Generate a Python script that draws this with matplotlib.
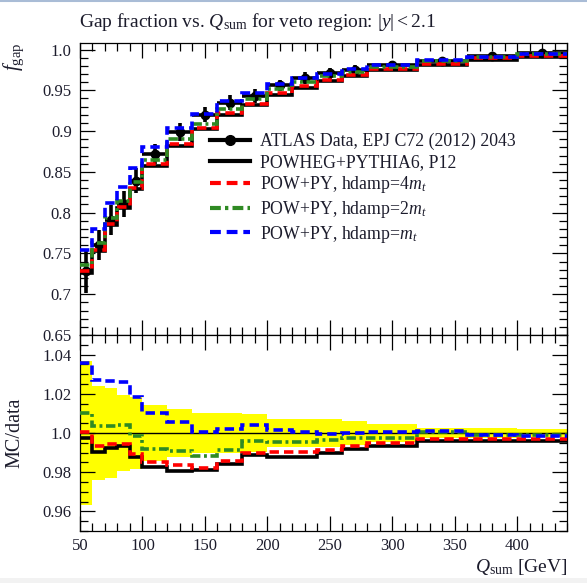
import matplotlib
matplotlib.use('Agg')
from matplotlib import pyplot as plt
from matplotlib.lines import Line2D
from matplotlib.patches import Rectangle
from matplotlib.ticker import MultipleLocator, FixedLocator, FixedFormatter
import numpy as np

plt.rcParams['font.family'] = ['Liberation Serif', 'DejaVu Serif']
plt.rcParams['mathtext.fontset'] = 'custom'
plt.rcParams['mathtext.rm'] = 'Liberation Serif'
plt.rcParams['mathtext.it'] = 'Liberation Serif:italic'

# Binning in Q_sum [GeV]
edges = np.array([50, 60, 70, 80, 90, 100, 120, 140, 160, 180, 200,
                  220, 240, 260, 280, 320, 360, 400, 440])

# ATLAS gap fraction with total uncertainty
data = np.array([0.728, 0.760, 0.791, 0.811, 0.839, 0.872, 0.899, 0.920, 0.935,
                 0.943, 0.956, 0.965, 0.971, 0.9755, 0.981, 0.9855, 0.992, 0.9955])
data_err = np.array([0.0269, 0.0182, 0.0182, 0.0158, 0.0155, 0.0126, 0.0108, 0.0094,
                     0.0094, 0.0090, 0.0069, 0.0069, 0.0068, 0.0059, 0.0045, 0.0027,
                     0.0025, 0.0020])

# MC predictions
p12 = np.array([0.7260, 0.7528, 0.7848, 0.8056, 0.8288, 0.8567, 0.8817, 0.9025, 0.9200,
                0.9323, 0.9441, 0.9530, 0.9609, 0.9674, 0.9747, 0.9813, 0.9877, 0.9912])
hdamp4 = np.array([0.7284, 0.7548, 0.7866, 0.8065, 0.8298, 0.8592, 0.8842, 0.9036, 0.9217,
                   0.9336, 0.9467, 0.9556, 0.9625, 0.9692, 0.9758, 0.9827, 0.9890, 0.9923])
hdamp2 = np.array([0.7356, 0.7626, 0.7939, 0.8143, 0.8376, 0.8651, 0.8907, 0.9091, 0.9271,
                   0.9392, 0.9515, 0.9605, 0.9675, 0.9729, 0.9787, 0.9858, 0.9910, 0.9943])
hdamp1 = np.array([0.7540, 0.7804, 0.8120, 0.8319, 0.8544, 0.8808, 0.9039, 0.9205, 0.9369,
                   0.9469, 0.9574, 0.9654, 0.9703, 0.9757, 0.9814, 0.9867, 0.9911, 0.9940])

labels = ['ATLAS Data, EPJ C72 (2012) 2043', 'POWHEG+PYTHIA6, P12',
          r'POW+PY, hdamp=4$m_t$', r'POW+PY, hdamp=2$m_t$', r'POW+PY, hdamp=$m_t$']

centers = 0.5 * (edges[1:] + edges[:-1])
halfw = 0.5 * (edges[1:] - edges[:-1])

W, H = 587, 583
fig = plt.figure(figsize=(W / 100, H / 100), dpi=100)
ax = fig.add_axes([80 / W, 1 - 335 / H, 487 / W, 292 / H])
axr = fig.add_axes([80 / W, 1 - 531 / H, 487 / W, 196 / H], sharex=ax)

# thin frame line on top and grey strip at the bottom
fig.add_artist(Line2D([0, 1], [1 - 1 / H, 1 - 1 / H], transform=fig.transFigure,
                      color='#a9bcd6', lw=1.5))
fig.add_artist(Rectangle((0, 0), 1, 5 / H, transform=fig.transFigure,
                         color='#f2f2f2', lw=0))

lw = 2.6
styles = [
    dict(color='black', lw=lw, linestyle='-'),
    dict(color='#ff0000', lw=lw, linestyle=(0, (2.6, 1.4))),
    dict(color='#2f8a23', lw=lw, linestyle=(0, (2.6, 1.0, 0.8, 1.0))),
    dict(color='#0000ff', lw=lw, linestyle=(0, (2.6, 1.4))),
]
preds = [p12, hdamp4, hdamp2, hdamp1]

# Upper panel: data and predictions
ax.errorbar(centers, data, xerr=halfw, yerr=data_err, fmt='o', color='black',
            ms=6, elinewidth=2.6, capsize=0, zorder=2)
for y, st in zip(preds, styles):
    ax.stairs(y, edges, baseline=None, zorder=3, **st)

# Lower panel: ratio to data
rel = data_err / data
axr.stairs(1 + rel, edges, baseline=1 - rel, fill=True, color='#ffff00', lw=0, zorder=1)
axr.axhline(1.0, color='black', lw=1.0, zorder=2)
for y, st in zip(preds, styles):
    axr.stairs(y / data, edges, baseline=None, zorder=3, **st)

ax.set_xlim(50, 440)
ax.set_ylim(0.65, 1.008)
axr.set_ylim(0.95, 1.05)

fs = 12
txt = '#1c1c2c'
for a in (ax, axr):
    a.xaxis.set_major_locator(MultipleLocator(50))
    a.xaxis.set_minor_locator(MultipleLocator(10))
    a.tick_params(which='both', direction='in', top=True, right=True, width=0.9,
                  labelsize=fs, labelcolor=txt)
    a.tick_params(which='major', length=11)
    a.tick_params(which='minor', length=5.5)
    for s in a.spines.values():
        s.set_linewidth(0.9)

ax.yaxis.set_major_locator(FixedLocator([0.65, 0.7, 0.75, 0.8, 0.85, 0.9, 0.95, 1.0]))
ax.yaxis.set_major_formatter(FixedFormatter(['0.65', '0.7', '0.75', '0.8', '0.85',
                                             '0.9', '0.95', '1.0']))
ax.yaxis.set_minor_locator(MultipleLocator(0.01))
ax.tick_params(axis='x', labelbottom=False)
ax.tick_params(axis='y', pad=6)

axr.yaxis.set_major_locator(FixedLocator([0.96, 0.98, 1.0, 1.02, 1.04]))
axr.yaxis.set_major_formatter(FixedFormatter(['0.96', '0.98', '1.0', '1.02', '1.04']))
axr.yaxis.set_minor_locator(MultipleLocator(0.005))
axr.tick_params(axis='x', pad=5)
axr.tick_params(axis='y', pad=6)

ax.set_ylabel(r'$f_\mathrm{gap}$', loc='top', fontsize=15, color=txt)
axr.set_ylabel('MC/data', fontsize=14.5, color=txt)
axr.set_xlabel(r'$Q_\mathrm{sum}$ [GeV]', loc='right', fontsize=14, color=txt)
ax.yaxis.set_label_coords(-0.11, 1.0)
axr.yaxis.set_label_coords(-0.115, 0.5)
axr.xaxis.set_label_coords(1.0, -0.135)

fig.text(79 / W, 1 - 22 / H,
         r'Gap fraction vs. $Q_\mathrm{sum}$ for veto region: $|y| < 2.1$',
         fontsize=14, color=txt, ha='left', va='center')

handles = [Line2D([], [], color='black', lw=lw + 0.4, marker='o', ms=7)]
handles += [Line2D([], [], **dict(st, lw=lw + 0.4)) for st in styles]
ax.legend(handles, labels, loc='upper left', bbox_to_anchor=(130 / 487, 202 / 292),
          frameon=False, fontsize=12.8, handlelength=2.25, handletextpad=0.55,
          labelspacing=0.2, borderpad=0, borderaxespad=0, labelcolor=txt)

fig.savefig('out.png', dpi=100)
